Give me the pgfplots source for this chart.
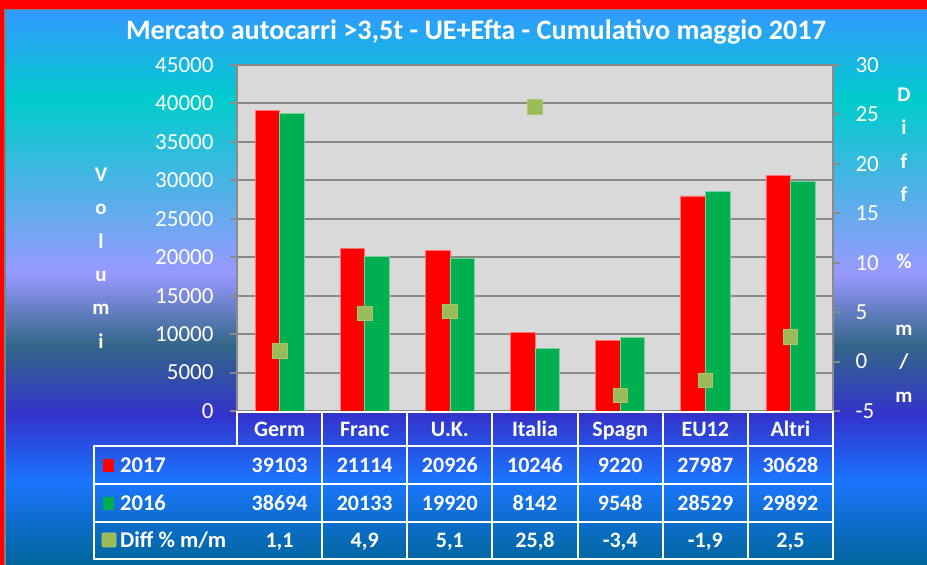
\documentclass[border=0pt]{standalone}
\usepackage{pgfplots}
\pgfplotsset{compat=1.18}
\usepackage{fontspec}
\setmainfont{Carlito}
\definecolor{bgA}{HTML}{3399FF}
\definecolor{bgB}{HTML}{00CCCC}
\definecolor{bgC}{HTML}{9999FF}
\definecolor{bgD}{HTML}{336688}
\definecolor{bgE}{HTML}{3333CC}
\definecolor{bgF}{HTML}{1A75FF}
\definecolor{bgG}{HTML}{006699}
\definecolor{plotgray}{HTML}{D9D9D9}
\definecolor{gridgray}{HTML}{8A8A8A}
\definecolor{barred}{HTML}{FF0000}
\definecolor{bargreen}{HTML}{00B050}
\definecolor{olive}{HTML}{9BBB59}
\begin{document}
\begin{tikzpicture}[x=1pt,y=1pt]
\useasboundingbox (0,0) rectangle (927,565);
% background
\shade[top color=bgA,bottom color=bgB] (0,556) rectangle (927,464.5);
\shade[top color=bgB,bottom color=bgC] (0,465) rectangle (927,291.5);
\shade[top color=bgC,bottom color=bgD] (0,292) rectangle (927,219.5);
\shade[top color=bgD,bottom color=bgE] (0,220) rectangle (927,149.5);
\shade[top color=bgE,bottom color=bgF] (0,150) rectangle (927,84.5);
\shade[top color=bgF,bottom color=bgG] (0,85) rectangle (927,0);
\fill[red] (0,556) rectangle (927,565);
\fill[red] (0,0) rectangle (4,556);
\fill[gray] (4,0) rectangle (6,556);
\fill[gray] (4,554.5) rectangle (927,556);
% title
\node[white,font=\bfseries\fontsize{28.2}{32}\selectfont] at (476,533) {Mercato autocarri >3,5t - UE+Efta - Cumulativo maggio 2017};
% axis labels
\node[white,font=\bfseries\fontsize{21}{33.4}\selectfont,align=center] at (101,307) {V\\o\\l\\u\\m\\i};
\node[white,font=\bfseries\fontsize{21}{33.4}\selectfont,align=center] at (904,320) {D\\i\\f\\f\\\mbox{}\\\%\\\mbox{}\\m\\/\\m};
\begin{axis}[
  at={(237pt,154pt)}, anchor=south west, scale only axis,
  width=596pt, height=346pt,
  xmin=-0.5, xmax=6.5, ymin=0, ymax=45000,
  xtick=\empty, ytick pos=left,
  axis line style={draw=none},
  axis background/.style={fill=plotgray},
  ytick={0,5000,...,45000}, scaled y ticks=false,
  ymajorgrids, grid style={line width=2pt, color=gridgray},
  major tick style={line width=2pt, color=gridgray},
  tick align=outside, major tick length=7pt,
  yticklabel style={white, anchor=east, xshift=-13pt, font=\fontsize{23}{23}\selectfont, /pgf/number format/1000 sep={}, /pgf/number format/assume math mode=true},
  clip=false,
]
\addplot[ybar, bar width=0.288, bar shift=-0.144, fill=barred, draw=barred!55!white, line width=0.6pt]
  coordinates {(0,39103) (1,21114) (2,20926) (3,10246) (4,9220) (5,27987) (6,30628)};
\addplot[ybar, bar width=0.288, bar shift=0.144, fill=bargreen, draw=bargreen!55!white, line width=0.6pt]
  coordinates {(0,38694) (1,20133) (2,19920) (3,8142) (4,9548) (5,28529) (6,29892)};
\draw[gridgray, line width=2.4pt] (rel axis cs:0,0) -- (rel axis cs:0,1);
\end{axis}
\begin{axis}[
  at={(237pt,154pt)}, anchor=south west, scale only axis,
  width=596pt, height=346pt,
  xmin=-0.5, xmax=6.5, ymin=-5, ymax=30,
  xtick=\empty, ytick pos=right, yticklabel pos=right,
  axis line style={draw=none},
  ytick={-5,0,...,30},
  major tick style={line width=2pt, color=gridgray},
  tick align=outside, major tick length=7pt,
  yticklabel style={white, anchor=west, xshift=12pt, font=\fontsize{23}{23}\selectfont, /pgf/number format/assume math mode=true},
  clip=false,
]
\draw[gridgray, line width=2.4pt] (rel axis cs:1,0) -- (rel axis cs:1,1);
\addplot[only marks, mark=square*, mark size=7.3pt, mark options={fill=olive, draw=olive!85!white, line width=0.6pt}]
  coordinates {(0,1.1) (1,4.9) (2,5.1) (3,25.8) (4,-3.4) (5,-1.9) (6,2.5)};
\end{axis}
% data table
\begin{scope}[white, line width=2pt]
  \draw (237,153) -- (833,153) -- (833,6) -- (94,6) -- (94,119) -- (237,119) -- cycle;
  \draw (94,81) -- (833,81);
  \draw (94,43) -- (833,43);
  \draw (94,119) -- (833,119);
  \foreach \k in {1,...,6} \draw ({237+85.143*\k},153) -- ({237+85.143*\k},6);
\end{scope}
\begin{scope}[font=\bfseries\fontsize{22}{22}\selectfont, text=white, every node/.style={text height=14.2pt, text depth=0pt}]
  \foreach \n [count=\i from 0] in {Germ,Franc,U.K.,Italia,Spagn,EU12,Altri}
    \node at ({237+85.143*(\i+0.5)},136) {\n};
  \foreach \n [count=\i from 0] in {39103,21114,20926,10246,9220,27987,30628}
    \node at ({237+85.143*(\i+0.5)},100) {\n};
  \foreach \n [count=\i from 0] in {38694,20133,19920,8142,9548,28529,29892}
    \node at ({237+85.143*(\i+0.5)},62) {\n};
  \foreach \n [count=\i from 0] in {{1,1},{4,9},{5,1},{25,8},{-3,4},{-1,9},{2,5}}
    \node at ({237+85.143*(\i+0.5)},25) {\n};
\end{scope}
\fill[barred] (103,93) rectangle (114,106);
\fill[bargreen] (103,55) rectangle (114,68);
\fill[olive, draw=olive!80!white, line width=0.6pt, rounded corners=1pt] (102,18) rectangle (116,32);
\begin{scope}[font=\bfseries\fontsize{22.5}{22}\selectfont, text=white, every node/.style={text height=14.2pt, text depth=0pt}]
  \node[anchor=west,inner sep=0] at (120,100) {2017};
  \node[anchor=west,inner sep=0] at (120,62) {2016};
  \node[anchor=west,inner sep=0] at (120,25) {Diff \% m/m};
\end{scope}
\end{tikzpicture}
\end{document}
